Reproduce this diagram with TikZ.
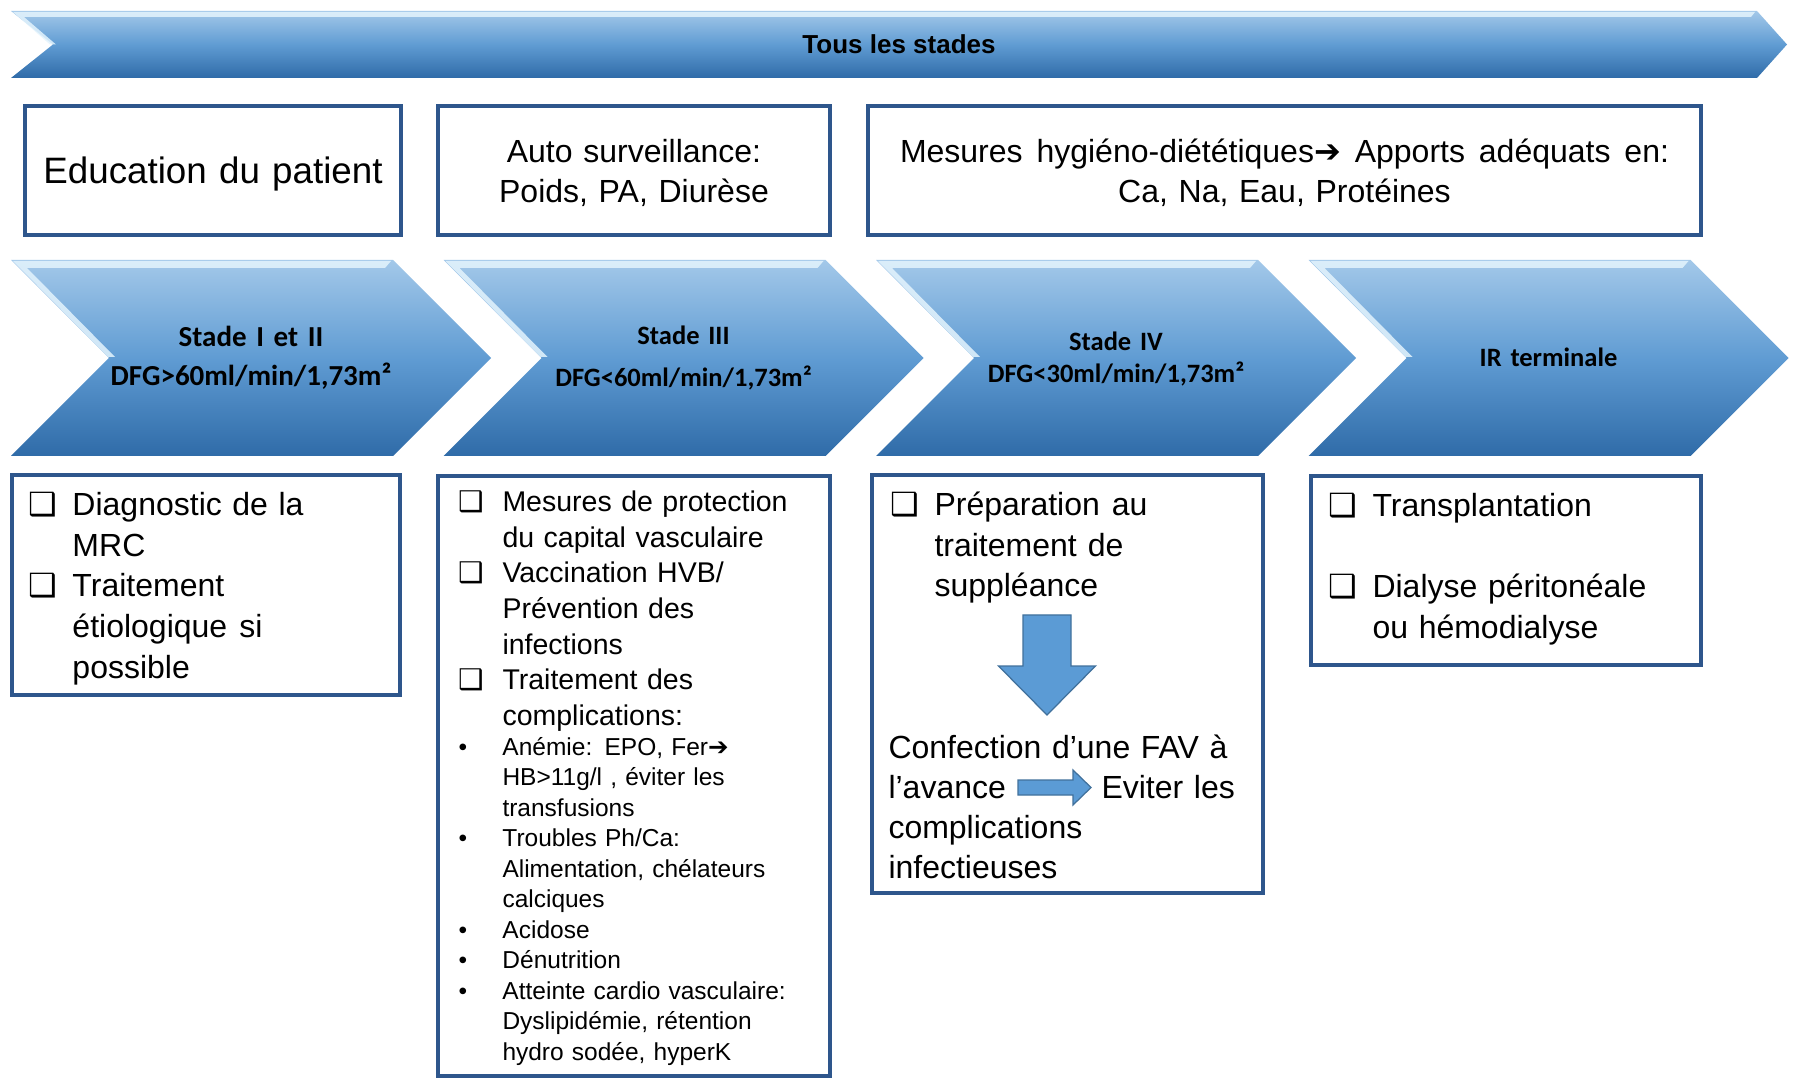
\documentclass[tikz,border=0pt]{standalone}
\usepackage{fontspec}
\setmainfont{Liberation Sans}
\newfontfamily\chevfont{Carlito}
\newfontfamily\symfont{DejaVu Sans}
\usetikzlibrary{calc}

\definecolor{boxblue}{RGB}{46,86,140}
\definecolor{chevtop}{RGB}{163,200,233}
\definecolor{chevmid}{RGB}{96,156,211}
\definecolor{chevbot}{RGB}{47,107,168}
\definecolor{glint}{RGB}{228,244,253}
\definecolor{arrowfill}{RGB}{91,155,213}
\definecolor{arrowline}{RGB}{65,113,156}

\newcommand\chk{{\symfont ❑}}
\newcommand\chkitem{\makebox[17.6pt][l]{\chk}}
\newcommand\hang{\hspace*{17.6pt}}
\newcommand\dotitem{\makebox[17.6pt][l]{•}}
\newcommand\rarr{{\symfont ➔}}

\tikzset{
  infobox/.style={draw=boxblue, line width=1.3pt, inner sep=0pt},
  chevshape/.style={top color=chevtop, bottom color=chevbot, middle color=chevmid},
  glintshape/.style={fill=glint, opacity=0.85},
  chevtext/.style 2 args={font=\chevfont\bfseries\fontsize{#1}{#2}\selectfont,
    align=center, text width=170pt, inner sep=0pt, anchor=base},
  toptext/.style={align=center, inner sep=0pt, anchor=base, text width=320pt,
    font=\fontsize{12.8}{16}\selectfont},
  boxtext/.style={align=left, inner sep=0pt, anchor=base west, text width=150pt},
  bigarrow/.style={fill=arrowfill, draw=arrowline, line width=0.5pt, line join=miter}
}

\begin{document}
\begin{tikzpicture}[x=0.4pt, y=-0.4pt]
\path[use as bounding box, fill=white] (0,0) rectangle (1795,1078);

% banner on top
\path[chevshape] (11,11) -- (1757,11) -- (1787,44.5) -- (1757,78) -- (11,78) -- (53,44.5) -- cycle;
\fill[glintshape] (13,12) -- (1755,12) -- (1751,17) -- (24,17) -- (56,44.5) -- (50,44.5) -- cycle;
\node[font=\fontsize{10.4}{12}\selectfont\bfseries] (tous) at (899,44.5) {Tous les stades};

% measures for every stage
\node[infobox, minimum width=150.4pt, minimum height=51.6pt] (educbox) at (213,170.5) {};
\node[infobox, minimum width=156.8pt, minimum height=51.6pt] (autobox) at (634,170.5) {};
\node[infobox, minimum width=333.2pt, minimum height=51.6pt] (hygbox) at (1284.5,170.5) {};
\node[toptext, font=\fontsize{14.7}{17}\selectfont] (educ) at (213,183.5) {Education du patient};
\node[toptext] (autosurv) at (634,163) {Auto surveillance:\\Poids, PA, Diurèse};
\node[toptext] (hygiene) at (1284.5,163)
  {\makebox[307.6pt]{Mesures\hfill hygiéno-diététiques\rarr\hfill Apports\hfill adéquats\hfill en:}\\Ca, Na, Eau, Protéines};

% stage chevrons
\foreach \lx in {11,443.5,876,1308.5}{
  \path[chevshape] (\lx,260) -- ++(382,0) -- ++(98,98) -- ++(-98,98) -- ++(-382,0) -- ++(98,-98) -- cycle;
  \fill[glintshape] (\lx+2,261) -- (\lx+380,261) -- (\lx+374,268) -- (\lx+16,268)
    -- (\lx+104,357) -- (\lx+97,357) -- cycle;
}
\node[chevtext={11.6}{15.8}] (stade12) at (251,346.5) {Stade I et II\\DFG>60ml/min/1,73m²};
\node[chevtext={10.6}{16.7}] (stade3) at (683.5,345) {Stade III\\DFG<60ml/min/1,73m²};
\node[chevtext={10.6}{12.8}] (stade4) at (1116,351) {Stade IV\\DFG<30ml/min/1,73m²};
\node[chevtext={10.6}{12.8}] (irterm) at (1548.5,366.5) {IR terminale};

% boxes under the stages
\node[infobox, minimum width=155.2pt, minimum height=88pt] (box12) at (206,585) {};
\node[infobox, minimum width=156.8pt, minimum height=240pt] (box3) at (634,776) {};
\node[infobox, minimum width=156.4pt, minimum height=167.2pt] (box4) at (1067.5,684) {};
\node[infobox, minimum width=156pt, minimum height=75.6pt] (boxterm) at (1506,570.5) {};

% stade I et II
\node[boxtext, font=\fontsize{12.8}{16.2}\selectfont] (diag) at (28,516)
  {\chkitem\makebox[92.4pt]{Diagnostic\hfill de\hfill la}\\\hang MRC\\\chkitem Traitement\\
   \hang\makebox[76pt]{étiologique\hfill si}\\\hang possible};

% stade III
\node[boxtext, font=\fontsize{11.4}{14.2}\selectfont] (protect) at (458,512)
  {\chkitem Mesures de protection\\\hang du capital vasculaire\\\chkitem Vaccination HVB/\\
   \hang Prévention des\\\hang infections\\\chkitem Traitement des\\\hang complications:};
\node[boxtext, font=\fontsize{9.8}{12.2}\selectfont] (compl) at (458,755)
  {\dotitem Anémie: EPO, Fer\rarr\\\hang HB>11g/l , éviter les\\\hang transfusions\\
   \dotitem Troubles Ph/Ca:\\\hang Alimentation, chélateurs\\\hang calciques\\
   \dotitem Acidose\\\dotitem Dénutrition\\\dotitem Atteinte cardio vasculaire:\\
   \hang Dyslipidémie, rétention\\\hang hydro sodée, hyperK};

% stade IV
\node[boxtext, font=\fontsize{12.8}{16.25}\selectfont] (prep) at (890,515.5)
  {\chkitem\makebox[85.2pt]{Préparation\hfill au}\\\hang\makebox[75.6pt]{traitement\hfill de}\\\hang suppléance};
\coordinate (dtop) at (1047,615);
\draw[bigarrow] ($(dtop)+(-24,0)$) -- ++(0,51) -- ++(-24.5,0) -- ++(48.5,49)
  -- ++(48.5,-49) -- ++(-24.5,0) -- ++(0,-51) -- cycle;
\node[boxtext, font=\fontsize{12.8}{16}\selectfont] (confect) at (888,758)
  {\makebox[135.6pt]{Confection\hfill d’une\hfill FAV\hfill à}};
\node[boxtext, font=\fontsize{12.8}{16}\selectfont] (avance) at (888,798) {l’avance};
\node[boxtext, font=\fontsize{12.8}{16}\selectfont] (eviter) at (1101,798) {Eviter les};
\coordinate (rtail) at (1018,787.5);
\draw[bigarrow] ($(rtail)+(0,-7.5)$) -- ++(55,0) -- ++(0,-10) -- ++(18,17.5)
  -- ++(-18,17.5) -- ++(0,-10) -- ++(-55,0) -- cycle;
\node[boxtext, font=\fontsize{12.8}{16}\selectfont] (infect) at (888,838) {complications\\infectieuses};

% IR terminale
\node[boxtext, font=\fontsize{12.8}{16.2}\selectfont] (transpl) at (1328,516.5)
  {\chkitem Transplantation\\[16.2pt]\chkitem Dialyse péritonéale\\\hang ou hémodialyse};
\end{tikzpicture}
\end{document}
